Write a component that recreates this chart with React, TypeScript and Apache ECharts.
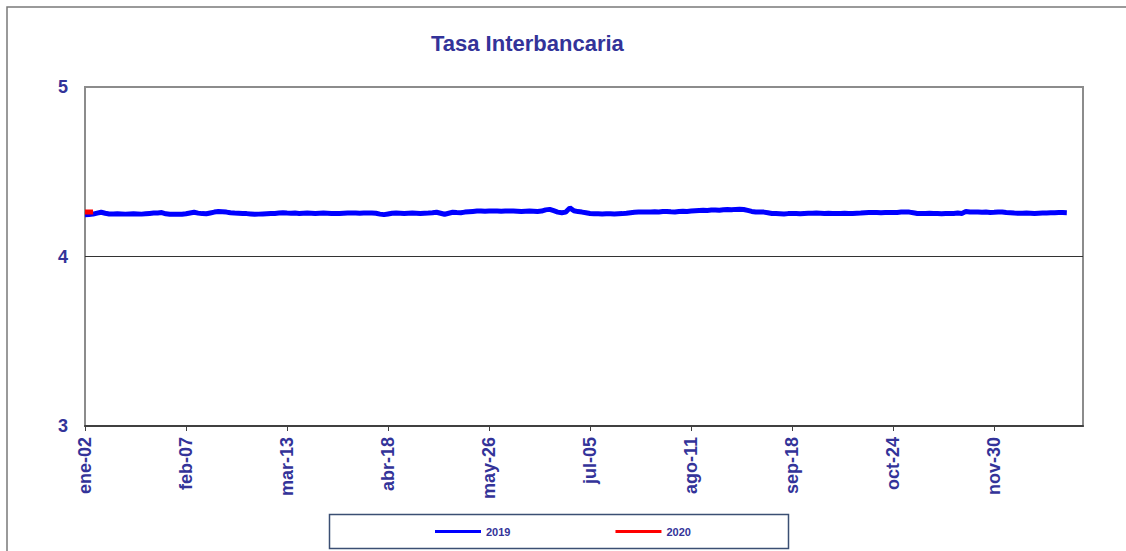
import React, { useEffect, useRef } from "react";
import * as echarts from "echarts";

const tickLabels = ["ene-02", "feb-07", "mar-13", "abr-18", "may-26", "jul-05", "ago-11", "sep-18", "oct-24", "nov-30"];
const categoryCount = 248;
const labelStep = 25;

const values2019 = [
  4.247, 4.248, 4.250, 4.256, 4.261, 4.255, 4.251, 4.251, 4.252, 4.251,
  4.250, 4.251, 4.252, 4.251, 4.250, 4.252, 4.254, 4.256, 4.257, 4.259,
  4.252, 4.249, 4.249, 4.250, 4.249, 4.252, 4.257, 4.261, 4.256, 4.253,
  4.252, 4.257, 4.262, 4.265, 4.264, 4.262, 4.258, 4.256, 4.255, 4.254,
  4.253, 4.251, 4.249, 4.250, 4.251, 4.252, 4.253, 4.254, 4.256, 4.258,
  4.256, 4.255, 4.256, 4.254, 4.255, 4.256, 4.255, 4.254, 4.255, 4.256,
  4.255, 4.254, 4.253, 4.254, 4.255, 4.256, 4.257, 4.256, 4.255, 4.256,
  4.257, 4.256, 4.255, 4.250, 4.247, 4.251, 4.255, 4.256, 4.255, 4.254,
  4.255, 4.256, 4.255, 4.254, 4.255, 4.256, 4.258, 4.261, 4.255, 4.249,
  4.255, 4.261, 4.259, 4.258, 4.262, 4.264, 4.266, 4.268, 4.268, 4.267,
  4.268, 4.269, 4.268, 4.267, 4.268, 4.269, 4.268, 4.267, 4.266, 4.267,
  4.268, 4.267, 4.266, 4.268, 4.275, 4.278, 4.270, 4.262, 4.258, 4.262,
  4.287, 4.270, 4.265, 4.262, 4.258, 4.254, 4.252, 4.252, 4.251, 4.252,
  4.252, 4.251, 4.252, 4.253, 4.255, 4.258, 4.261, 4.262, 4.263, 4.262,
  4.263, 4.264, 4.262, 4.265, 4.266, 4.264, 4.263, 4.266, 4.267, 4.266,
  4.268, 4.270, 4.272, 4.273, 4.272, 4.274, 4.275, 4.273, 4.276, 4.277,
  4.276, 4.278, 4.279, 4.277, 4.272, 4.266, 4.263, 4.262, 4.262, 4.258,
  4.254, 4.253, 4.252, 4.251, 4.253, 4.254, 4.253, 4.252, 4.254, 4.255,
  4.255, 4.256, 4.255, 4.254, 4.255, 4.254, 4.253, 4.254, 4.255, 4.254,
  4.254, 4.255, 4.256, 4.258, 4.259, 4.260, 4.259, 4.258, 4.259, 4.260,
  4.259, 4.260, 4.262, 4.263, 4.262, 4.258, 4.254, 4.253, 4.254, 4.255,
  4.254, 4.253, 4.252, 4.254, 4.253, 4.254, 4.256, 4.254, 4.265, 4.262,
  4.262, 4.263, 4.261, 4.262, 4.260, 4.261, 4.263, 4.262, 4.259, 4.258,
  4.256, 4.255, 4.255, 4.256, 4.255, 4.254, 4.255, 4.256, 4.257, 4.258,
  4.258, 4.259, 4.259, 4.258,
];

const values2020 = [4.262, 4.262, 4.263];

const seriesNames = ["2019", "2020"];
const seriesColors = ["#0000ff", "#ff0000"];

const categories: string[] = [];
for (let i = 0; i < categoryCount; i++) {
  const k = i / labelStep;
  categories.push(i % labelStep === 0 && tickLabels[k] ? tickLabels[k] : `d${i}`);
}

const FONT = "Arial, 'Liberation Sans', sans-serif";
const LABEL_COLOR = "#333399";

export default function App() {
  const ref = useRef<HTMLDivElement>(null);

  useEffect(() => {
    if (!ref.current) return;
    const chart = echarts.init(ref.current, null, { renderer: "svg" });
    chart.setOption({
      animation: false,
      backgroundColor: "#ffffff",
      title: {
        text: "Tasa Interbancaria",
        left: 431,
        top: 32,
        padding: 0,
        textStyle: { fontFamily: FONT, fontSize: 22, fontWeight: "bold", color: LABEL_COLOR },
      },
      graphic: [
        {
          type: "rect",
          z: -10,
          shape: { x: 7, y: 7, width: 1140, height: 570 },
          style: { fill: "none", stroke: "#7a7a7a", lineWidth: 1.5 },
        },
        {
          type: "rect",
          z: 0,
          shape: { x: 329.5, y: 514.5, width: 459, height: 34 },
          style: { fill: "#ffffff", stroke: "#3b4f73", lineWidth: 1.5 },
        },
      ],
      legend: {
        data: seriesNames,
        left: 435,
        top: 526,
        padding: 0,
        icon: "rect",
        itemWidth: 46,
        itemHeight: 3,
        itemGap: 105,
        textStyle: { fontFamily: FONT, fontSize: 11, fontWeight: "bold", color: LABEL_COLOR },
      },
      grid: {
        left: 85,
        top: 87,
        width: 998,
        height: 339,
        show: true,
        borderColor: "#8c8c8c",
        borderWidth: 2,
        backgroundColor: "transparent",
      },
      xAxis: {
        type: "category",
        data: categories,
        boundaryGap: false,
        axisLine: { show: true, lineStyle: { color: "#404040", width: 2 } },
        axisTick: { show: true, interval: labelStep - 1, length: 5, lineStyle: { color: "#404040", width: 1 } },
        axisLabel: {
          interval: labelStep - 1,
          rotate: 90,
          margin: 11,
          fontFamily: FONT,
          fontSize: 18,
          fontWeight: "bold",
          color: LABEL_COLOR,
          formatter: (v: string) => (v.startsWith("d") ? "" : v),
        },
        splitLine: { show: false },
      },
      yAxis: {
        type: "value",
        min: 3,
        max: 5,
        interval: 1,
        axisLine: { show: false },
        axisTick: { show: false },
        axisLabel: {
          margin: 17,
          fontFamily: FONT,
          fontSize: 18,
          fontWeight: "bold",
          color: LABEL_COLOR,
        },
        splitLine: { show: true, lineStyle: { color: ["#404040", "#333333", "#8c8c8c"], width: 1 } },
      },
      series: [
        {
          name: seriesNames[0],
          type: "line",
          data: values2019,
          showSymbol: false,
          symbol: "none",
          color: seriesColors[0],
          lineStyle: { color: seriesColors[0], width: 5 },
          z: 3,
        },
        {
          name: seriesNames[1],
          type: "line",
          data: values2020,
          showSymbol: false,
          symbol: "none",
          color: seriesColors[1],
          lineStyle: { color: seriesColors[1], width: 5 },
          z: 4,
        },
      ],
    });
    return () => chart.dispose();
  }, []);

  return (
    <div
      ref={ref}
      style={{ position: "absolute", left: 0, top: 0, width: 1126, height: 551 }}
    />
  );
}
